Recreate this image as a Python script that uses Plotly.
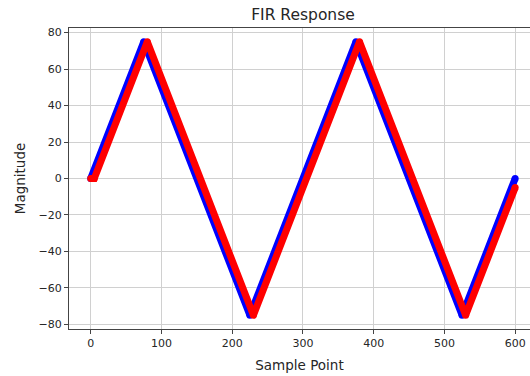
import plotly.graph_objects as go

# Triangle-wave vertices
blue_x = [0, 75, 225, 375, 525, 600]
blue_y = [0, 75, -75, 75, -75, 0]
red_x = [0, 5, 80, 230, 380, 530, 600]
red_y = [0, 0, 75, -75, 75, -75, -5]

x_ticks = [0, 100, 200, 300, 400, 500, 600]
y_ticks = [-80, -60, -40, -20, 0, 20, 40, 60, 80]

fig = go.Figure()
fig.add_trace(go.Scatter(x=blue_x, y=blue_y, mode="lines+markers",
                         line=dict(color="#0000ff", width=7),
                         marker=dict(color="#0000ff", size=7)))
fig.add_trace(go.Scatter(x=red_x, y=red_y, mode="lines+markers",
                         line=dict(color="#ff0000", width=7),
                         marker=dict(color="#ff0000", size=7)))

W, H = 530, 376
font = dict(family="DejaVu Sans", size=11, color="#262626")
label_font = dict(family="DejaVu Sans", size=13.5, color="#262626")
fig.update_layout(
    width=W, height=H,
    margin=dict(l=69, r=0, t=28, b=47),
    paper_bgcolor="white", plot_bgcolor="white",
    showlegend=False,
    font=font,
    title=dict(text="FIR Response", x=303 / W, xanchor="center",
               y=1 - 15 / H, yanchor="middle",
               font=dict(family="DejaVu Sans", size=15.5, color="#262626")),
    xaxis=dict(range=[-30.7, 621], tickvals=x_ticks, showgrid=True,
               automargin=False, ticklabeloverflow="allow",
               gridcolor="#d0d0d0", gridwidth=1, zeroline=False,
               showline=True, linecolor="#444", linewidth=1, mirror=True,
               ticks="outside", ticklen=4, tickcolor="#444",
               title=dict(text="Sample Point", standoff=11, font=label_font)),
    yaxis=dict(range=[-82.5, 82.5], tickvals=y_ticks, automargin=False,
               ticktext=[str(v).replace("-", "\u2212") for v in y_ticks],
               showgrid=True, gridcolor="#d0d0d0", gridwidth=1, zeroline=False,
               showline=True, linecolor="#444", linewidth=1,
               ticks="outside", ticklen=4, tickcolor="#444",
               title=dict(text="Magnitude", standoff=9, font=label_font)),
)
fig.write_html(
    "out.html",
    config={"displayModeBar": False},
    post_script="document.body.style.margin='0';document.body.style.overflow='hidden';",
)
